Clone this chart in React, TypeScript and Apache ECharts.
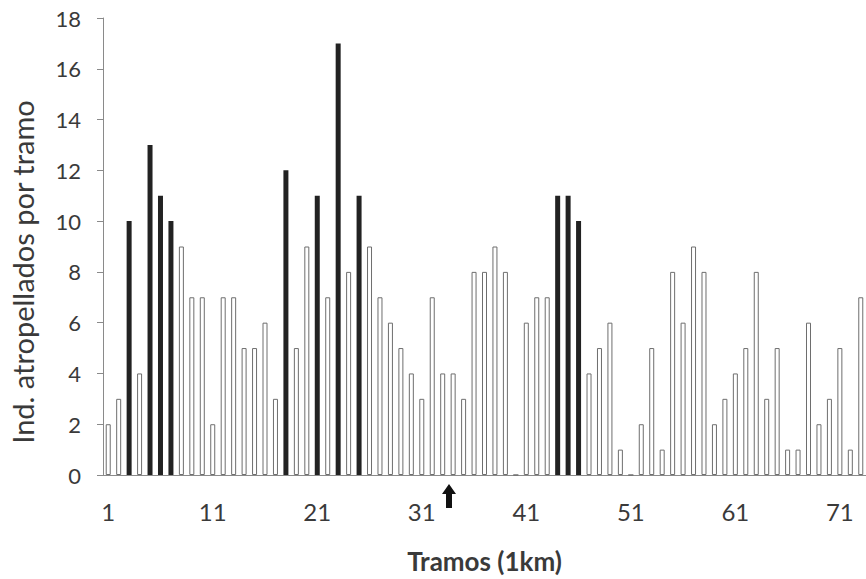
import React, { useEffect, useRef } from "react";
import * as echarts from "echarts";

const tramos: string[] = Array.from({ length: 73 }, (_, i) => String(i + 1));
const atropellados: number[] = [
  2, 3, 10, 4, 13, 11, 10, 9, 7, 7,
  2, 7, 7, 5, 5, 6, 3, 12, 5, 9,
  11, 7, 17, 8, 11, 9, 7, 6, 5, 4,
  3, 7, 4, 4, 3, 8, 8, 9, 8, 0,
  6, 7, 7, 11, 11, 10, 4, 5, 6, 1,
  0, 2, 5, 1, 8, 6, 9, 8, 2, 3,
  4, 5, 8, 3, 5, 1, 1, 6, 2, 3,
  5, 1, 7,
];
const destacados: number[] = [3, 5, 6, 7, 18, 21, 23, 25, 44, 45, 46];
const yTicks = { min: 0, max: 18, interval: 2 };
const yTitle = "Ind. atropellados por tramo";
const xTitle = "Tramos (1km)";

const FONT = "Lato, 'Liberation Sans', sans-serif";

export default function App() {
  const ref = useRef<HTMLDivElement>(null);
  useEffect(() => {
    if (!ref.current) return;
    const chart = echarts.init(ref.current, null, { renderer: "svg" });
    const data = atropellados.map((v, i) => {
      const hi = destacados.includes(i + 1);
      return {
        value: v,
        itemStyle: hi
          ? { color: "#222222", borderColor: "#222222", borderWidth: 0 }
          : { color: "#ffffff", borderColor: "#6e6e6e", borderWidth: 1 },
      };
    });
    chart.setOption({
      animation: false,
      backgroundColor: "#ffffff",
      textStyle: { fontFamily: FONT },
      grid: { left: 103, right: 0, top: 18, bottom: 100 },
      xAxis: {
        type: "category",
        data: tramos,
        name: xTitle,
        nameLocation: "middle",
        nameGap: 73,
        nameTextStyle: { fontSize: 26, fontWeight: "bold", color: "#3a3a3a", fontFamily: FONT },
        axisLine: { lineStyle: { color: "#8a8a8a", width: 1 } },
        axisTick: { show: false },
        axisLabel: {
          interval: 9,
          margin: 24,
          fontSize: 24,
          color: "#3a3a3a",
          fontFamily: FONT,
        },
      },
      yAxis: {
        type: "value",
        min: yTicks.min,
        max: yTicks.max,
        interval: yTicks.interval,
        axisLine: { show: true, lineStyle: { color: "#8a8a8a", width: 1 } },
        axisTick: { show: true, length: 6, lineStyle: { color: "#8a8a8a" } },
        splitLine: { show: false },
        axisLabel: { margin: 22, fontSize: 22, color: "#3a3a3a", fontFamily: FONT },
      },
      series: [
        {
          type: "bar",
          data,
          barWidth: 5,
        },
      ],
      graphic: [
        {
          type: "text",
          x: 22,
          y: 272,
          rotation: Math.PI / 2,
          style: {
            text: yTitle,
            fontSize: 29,
            fontFamily: FONT,
            fill: "#3a3a3a",
            align: "center",
            verticalAlign: "middle",
          },
        },
        {
          type: "polygon",
          shape: {
            points: [
              [449, 484],
              [456, 494],
              [452, 494],
              [452, 508],
              [446, 508],
              [446, 494],
              [442, 494],
            ],
          },
          style: { fill: "#111111" },
        },
      ],
    });
    return () => chart.dispose();
  }, []);
  return (
    <div
      ref={ref}
      style={{ position: "fixed", left: 0, top: 0, width: 866, height: 579 }}
    />
  );
}
